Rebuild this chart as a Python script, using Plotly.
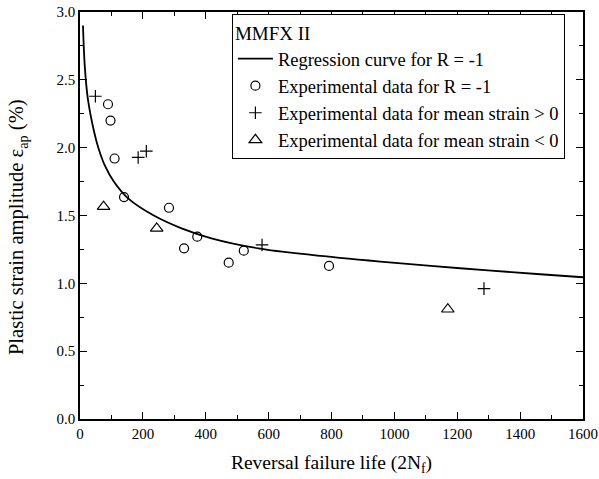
import plotly.graph_objects as go

# Regression curve
curve_x = [9.5, 15, 25, 45, 59, 78.5, 108, 153, 232, 323, 418, 567, 736, 955, 1209, 1464, 1600]
curve_y = [2.90, 2.607, 2.36, 2.116, 1.994, 1.871, 1.748, 1.626, 1.503, 1.405, 1.332, 1.258, 1.209, 1.16, 1.111, 1.067, 1.045]

# Experimental data R = -1
r1_x = [89, 97, 110, 140, 283, 331, 373, 473, 521, 792]
r1_y = [2.32, 2.20, 1.92, 1.636, 1.557, 1.258, 1.344, 1.152, 1.241, 1.128]

# Mean strain > 0
pos_x = [49, 185, 211, 579, 1285]
pos_y = [2.379, 1.928, 1.974, 1.283, 0.961]

# Mean strain < 0
neg_x = [75, 244, 1170]
neg_y = [1.565, 1.405, 0.809]

FONT = "Liberation Serif"

fig = go.Figure()
fig.add_trace(go.Scatter(x=curve_x, y=curve_y, mode="lines", line=dict(color="black", width=1.8, shape="spline"),
                         name="Regression curve for R = -1"))
fig.add_trace(go.Scatter(x=r1_x, y=r1_y, mode="markers",
                         marker=dict(symbol="circle-open", size=9, color="black", line=dict(width=1.2)),
                         name="Experimental data for R = -1"))
fig.add_trace(go.Scatter(x=pos_x, y=pos_y, mode="markers",
                         marker=dict(symbol="cross-thin-open", size=9, color="black", line=dict(width=1.2)),
                         name="Experimental data for mean strain > 0"))
fig.add_trace(go.Scatter(x=neg_x, y=neg_y, mode="markers",
                         marker=dict(symbol="triangle-up-open", size=11, color="black", line=dict(width=1.2)),
                         name="Experimental data for mean strain < 0"))

axis_common = dict(showline=True, linecolor="black", linewidth=1.5, mirror="allticks",
                   ticks="inside", ticklen=7, tickwidth=1.2, tickcolor="black",
                   showgrid=False, zeroline=False, automargin=False,
                   tickfont=dict(family=FONT, size=15, color="black"))

fig.update_xaxes(range=[0, 1600], dtick=200, tick0=0,
                 minor=dict(dtick=100, ticks="inside", ticklen=4, tickcolor="black", tickwidth=1.2),
                 title=dict(text="Reversal failure life (2N<sub>f</sub>)", font=dict(family=FONT, size=19.5, color="black"), standoff=15),
                 **axis_common)
fig.update_yaxes(range=[0, 3.0], dtick=0.5, tick0=0, tickformat=".1f",
                 minor=dict(dtick=0.25, ticks="inside", ticklen=4, tickcolor="black", tickwidth=1.2),
                 **axis_common)

fig.add_annotation(text="Plastic strain amplitude ε<sub>ap</sub> (%)", textangle=-90,
                   xref="paper", yref="paper", x=-0.123, y=0.472, xanchor="center", yanchor="middle",
                   showarrow=False, font=dict(family=FONT, size=20.5, color="black"))

fig.update_layout(
    width=599, height=479,
    margin=dict(l=80, r=16, t=12, b=60, autoexpand=False),
    paper_bgcolor="white", plot_bgcolor="white",
    font=dict(family=FONT, color="black"),
    legend=dict(x=0.302, y=0.994, xanchor="left", yanchor="top",
                bgcolor="white", bordercolor="black", borderwidth=1,
                font=dict(family=FONT, size=18.5, color="black"),
                title=dict(text="MMFX II", font=dict(family=FONT, size=19, color="black")),
                itemwidth=35, tracegroupgap=0),
)

fig.write_html("out.html")
